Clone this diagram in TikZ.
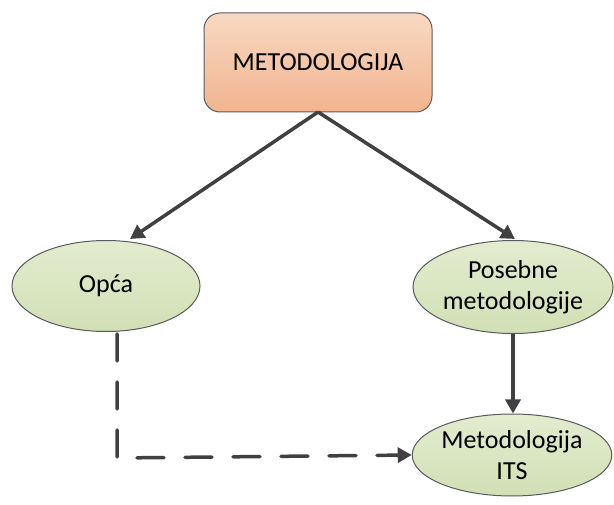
\documentclass[tikz,border=0pt]{standalone}
\usepackage{fontspec}
\setmainfont{Carlito}
\usetikzlibrary{arrows.meta,shapes.geometric}
\definecolor{linec}{HTML}{404040}
\definecolor{peachtop}{HTML}{F8D9C2}
\definecolor{peachbot}{HTML}{F1B48F}
\definecolor{greentop}{HTML}{E3ECCF}
\definecolor{greenbot}{HTML}{D2DFB5}
\definecolor{edgec}{HTML}{5A5A5A}
\tikzset{
  topbox/.style={draw=edgec, line width=1pt, rounded corners=16pt, top color=peachtop, bottom color=peachbot, minimum width=228pt, minimum height=99pt, font=\fontsize{26}{31}\selectfont, inner sep=0pt},
  oval/.style={ellipse, draw=edgec, line width=1pt, top color=greentop, bottom color=greenbot, inner sep=0pt, align=center, font=\fontsize{26}{31}\selectfont},
  conn/.style={draw=linec, line width=3.5pt, -{Triangle[length=14pt,width=15pt]}},
  dconn/.style={conn, dash pattern=on 27pt off 21pt, line cap=round}
}
\begin{document}
\begin{tikzpicture}[x=1pt,y=-1pt]
\useasboundingbox (0,0) rectangle (614,505);
\node[topbox] (m) at (318,62.5) {METODOLOGIJA};
\node[oval, minimum width=188pt, minimum height=91pt] (o) at (106,286) {Opća};
\node[oval, minimum width=200pt, minimum height=93pt] (p) at (513,287) {Posebne\\metodologije};
\node[oval, minimum width=199pt, minimum height=82pt] (i) at (512,455) {Metodologija\\ITS};
\coordinate (mb) at (318,112);
\coordinate (ot) at (130,239);
\coordinate (pt) at (515,239);
\coordinate (ob) at (117,334);
\coordinate (corner) at (117,458);
\draw[conn] (mb) -- (ot);
\draw[conn] (mb) -- (pt);
\draw[conn] (p.south -| 513,0) -- (i.north -| 513,0);
\draw[dconn] (ob) -- (corner) -- (i.west);
\end{tikzpicture}
\end{document}
